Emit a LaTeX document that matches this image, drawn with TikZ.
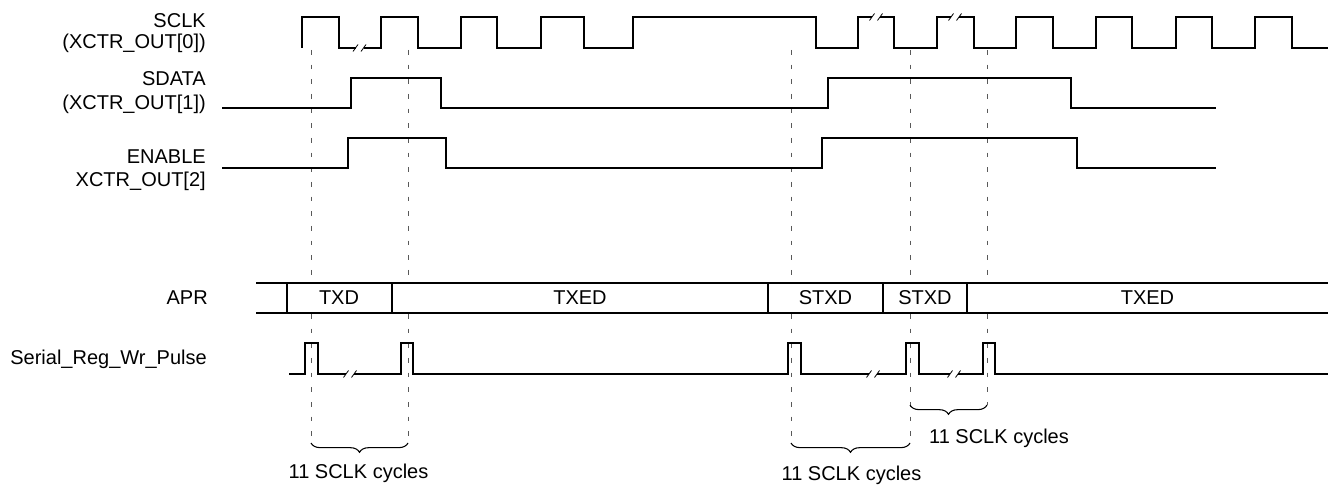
\documentclass[tikz,border=0pt]{standalone}
\usepackage{fontspec}
\setmainfont{Liberation Sans}
\usetikzlibrary{decorations.pathreplacing}
\newcommand{\lblfont}{\fontsize{15}{17.5}\selectfont}
\tikzset{
  wave/.style={line width=1.1pt, line join=miter},
  guide/.style={draw=black!65, line width=0.6pt, dash pattern=on 3.5pt off 7.5pt},
  slash/.style={line width=0.6pt},
  lbl/.style={font=\lblfont, inner sep=0pt},
  bracestyle/.style={line width=0.8pt, decorate, decoration={brace, amplitude=7pt}},
}
\newcommand{\brk}[2]{\draw[slash] (#1-6.5,#2+3.5) -- (#1-1.5,#2-3.5) (#1+1.5,#2+3.5) -- (#1+6.5,#2-3.5);}
\begin{document}
\begin{tikzpicture}[x=0.75pt,y=-0.75pt]
\useasboundingbox (0,0) rectangle (1331,491);

% labels
\node[lbl, anchor=base east] (l1a) at (206,28) {SCLK};
\node[lbl, anchor=base east] (l1b) at (206,49) {(XCTR\_OUT[0])};
\node[lbl, anchor=base east] (l2a) at (206,86) {SDATA};
\node[lbl, anchor=base east] (l2b) at (206,110) {(XCTR\_OUT[1])};
\node[lbl, anchor=base east] (l3a) at (206,164) {ENABLE};
\node[lbl, anchor=base east] (l3b) at (206,187) {XCTR\_OUT[2]};
\node[lbl, anchor=base east] (l4) at (208,305) {APR};
\node[lbl, anchor=base east] (l5) at (207,365) {Serial\_Reg\_Wr\_Pulse};

% guide lines
\coordinate (g1t) at (311,50); \coordinate (g1b) at (311,443);
\coordinate (g2t) at (408,50); \coordinate (g2b) at (408,443);
\coordinate (g3t) at (791,50); \coordinate (g3b) at (791,443);
\coordinate (g4t) at (910,50); \coordinate (g4b) at (910,443);
\coordinate (g5t) at (987,50); \coordinate (g5b) at (987,405);
\draw[guide] (g1t) -- (g1b);
\draw[guide] (g2t) -- (g2b);
\draw[guide] (g3t) -- (g3b);
\draw[guide] (g4t) -- (g4b);
\draw[guide] (g5t) -- (g5b);

% SCLK
\draw[wave] (302,48) -- (302,17) -- (339,17) -- (339,48) -- (355.5,48)
  (363.5,48) -- (381,48) -- (381,17) -- (418,17) -- (418,48) -- (461,48) -- (461,17)
  -- (497,17) -- (497,48) -- (541,48) -- (541,17) -- (584,17) -- (584,48) -- (633,48)
  -- (633,17) -- (816,17) -- (816,48) -- (858,48) -- (858,17) -- (872,17)
  (880,17) -- (894,17) -- (894,48) -- (937,48) -- (937,17) -- (951,17)
  (959,17) -- (974,17) -- (974,48) -- (1016,48) -- (1016,17) -- (1053,17) -- (1053,48)
  -- (1096,48) -- (1096,17) -- (1132,17) -- (1132,48) -- (1176,48) -- (1176,17)
  -- (1212,17) -- (1212,48) -- (1255,48) -- (1255,17) -- (1292,17) -- (1292,48) -- (1328,48);
\brk{359.5}{48}
\brk{876}{17}
\brk{955}{17}

% SDATA
\draw[wave] (222,108) -- (351,108) -- (351,78) -- (441,78) -- (441,108) -- (828,108)
  -- (828,78) -- (1071,78) -- (1071,108) -- (1216,108);
% ENABLE
\draw[wave] (222,168) -- (348,168) -- (348,138) -- (446,138) -- (446,168) -- (822,168)
  -- (822,138) -- (1077,138) -- (1077,168) -- (1216,168);

% APR row
\fill[white] (256,283) rectangle (1328,313);
\draw[wave] (256,283) -- (1328,283) (256,313) -- (1328,313);
\draw[wave] (287,283) -- (287,313) (392,283) -- (392,313) (768,283) -- (768,313)
  (883,283) -- (883,313) (967,283) -- (967,313);
\node[lbl] (s1) at (339,298) {TXD};
\node[lbl] (s2) at (580,298) {TXED};
\node[lbl] (s3) at (825.5,298) {STXD};
\node[lbl] (s4) at (925,298) {STXD};
\node[lbl] (s5) at (1147.5,298) {TXED};

% Serial_Reg_Wr_Pulse
\draw[wave] (289,374) -- (305,374) -- (305,343) -- (318,343) -- (318,374) -- (346,374)
  (354,374) -- (401,374) -- (401,343) -- (413,343) -- (413,374) -- (788,374)
  -- (788,343) -- (801,343) -- (801,374) -- (869,374)
  (877,374) -- (906,374) -- (906,343) -- (919,343) -- (919,374) -- (950,374)
  (958,374) -- (983,374) -- (983,343) -- (995,343) -- (995,374) -- (1328,374);
\brk{350}{374}
\brk{873}{374}
\brk{954}{374}

% braces
\draw[bracestyle] (g2b) -- (g1b);
\draw[bracestyle] (g4b) -- (g3b);
\coordinate (g4m) at (910,405);
\draw[bracestyle] (g5b) -- (g4m);
\node[lbl, anchor=base] (c1) at (358.5,478) {11 SCLK cycles};
\node[lbl, anchor=base] (c2) at (851.5,480) {11 SCLK cycles};
\node[lbl, anchor=base] (c3) at (999,443) {11 SCLK cycles};
\end{tikzpicture}
\end{document}
